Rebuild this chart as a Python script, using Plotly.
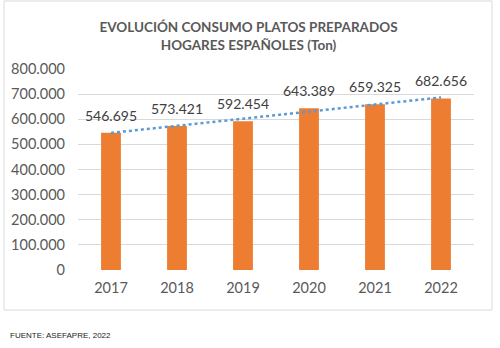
import numpy as np
import plotly.graph_objects as go

years = ["2017", "2018", "2019", "2020", "2021", "2022"]
consumo = [546695, 573421, 592454, 643389, 659325, 682656]
y_ticks = [0, 100000, 200000, 300000, 400000, 500000, 600000, 700000, 800000]

# linear trendline (as in the spreadsheet chart)
xi = np.arange(len(consumo))
slope, intercept = np.polyfit(xi, consumo, 1)
trend = slope * xi + intercept

FONT = "Lato, Carlito, Liberation Sans, sans-serif"

fig = go.Figure()
fig.add_trace(go.Bar(
    x=years, y=consumo, width=0.3,
    marker=dict(color="#ED7D31", line=dict(width=0)),
    showlegend=False,
))
fig.add_trace(go.Scatter(
    x=years, y=trend, mode="lines",
    line=dict(color="#5B9BD5", width=2.5, dash="dot"),
    showlegend=False, hoverinfo="skip",
))

L, R, T, B = 78, 26, 69, 78
W, H = 500, 348
pw, ph = W - L - R, H - T - B
def px(x): return (x - L) / pw
def py(y): return (H - B - y) / ph

annotations = [dict(
    x=i, y=v, xref="x", yref="y", text=f"{v:,}".replace(",", "."),
    showarrow=False, xanchor="center", yanchor="bottom", yshift=7,
    font=dict(family=FONT, size=14, color="#404040"),
) for i, v in enumerate(consumo)]
annotations.append(dict(
    text="FUENTE: ASEFAPRE, 2022", xref="paper", yref="paper",
    x=px(8), y=py(335), xanchor="left", yanchor="middle", showarrow=False,
    font=dict(family="Liberation Sans, Arial, sans-serif", size=8, color="#222222"),
))

fig.update_layout(
    width=W, height=H,
    margin=dict(l=L, r=R, t=T, b=B, pad=0),
    paper_bgcolor="white", plot_bgcolor="white",
    separators=",.",
    bargap=0.7,
    title=dict(
        text="<b>EVOLUCIÓN CONSUMO PLATOS PREPARADOS<br>HOGARES ESPAÑOLES (Ton)</b>",
        x=0.497, xanchor="center", y=1 - 32 / H, yanchor="middle",
        font=dict(family=FONT, size=13.5, color="#595959"),
    ),
    xaxis=dict(
        type="category", range=[-0.5, len(years) - 0.5],
        showgrid=False, showline=False, ticks="",
        tickfont=dict(family=FONT, size=14.5, color="#595959"),
        ticklabelstandoff=7,
    ),
    yaxis=dict(
        range=[0, 800000], tickvals=y_ticks, tickformat=",d",
        showgrid=True, gridcolor="#D9D9D9", gridwidth=1,
        zeroline=False, showline=False, ticks="",
        tickfont=dict(family=FONT, size=14.5, color="#595959"),
        ticklabelstandoff=12,
    ),
    shapes=[dict(
        type="rect", xref="paper", yref="paper",
        x0=px(4), x1=px(492), y0=py(310), y1=py(1),
        line=dict(color="#D9D9D9", width=1), fillcolor="rgba(0,0,0,0)",
    )],
    annotations=annotations,
)

fig.write_html("out.html")
